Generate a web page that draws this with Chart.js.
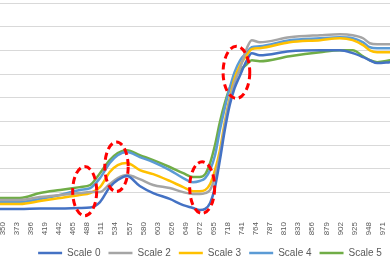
<!DOCTYPE html>
<html>
<head>
<meta charset="utf-8">
<script src="https://cdn.jsdelivr.net/npm/chart.js@4"></script>
<style>
  html, body { margin: 0; padding: 0; background: #fff; overflow: hidden; }
  #wrap { position: relative; width: 390px; height: 268px; }
</style>
</head>
<body>
<div id="wrap"><canvas id="myChart"></canvas></div>
<script>
const wavelengths = [345, 378, 411, 444, 476, 493, 509, 525, 538, 553, 574, 596, 623, 645, 661, 672, 681, 689, 697, 705, 713, 721, 729, 738, 749, 757, 770, 819, 869, 901, 922, 939, 950, 962, 984];

const scale0 = [3.0, 3.0, 3.2, 3.2, 3.4, 3.6, 5.9, 12.2, 15.2, 16.9, 12.7, 9.7, 7.2, 4.6, 3.4, 2.5, 3.0, 5.5, 12.2, 23.6, 36.3, 46.8, 54.0, 59.5, 65.8, 68.8, 67.9, 69.6, 70.0, 70.0, 68.8, 67.1, 65.8, 64.6, 65.0];
const scale2 = [6.8, 6.8, 8.0, 8.9, 9.7, 10.1, 10.1, 13.5, 16.0, 17.3, 15.6, 13.1, 11.8, 10.1, 9.3, 9.3, 9.7, 11.0, 16.5, 25.7, 38.4, 48.9, 56.5, 62.4, 70.9, 74.3, 73.4, 75.5, 76.4, 76.8, 76.4, 75.1, 73.0, 72.6, 72.6];
const scale3 = [5.1, 5.1, 6.3, 7.6, 8.9, 9.7, 12.2, 18.6, 21.5, 22.4, 19.4, 17.7, 14.8, 12.2, 10.5, 10.5, 11.0, 13.5, 19.4, 27.8, 39.7, 49.8, 58.2, 63.7, 67.9, 70.5, 70.9, 73.4, 74.3, 75.1, 74.3, 72.2, 70.0, 69.2, 69.2];
const scale4 = [5.9, 5.9, 7.2, 8.9, 11.0, 11.8, 16.0, 22.4, 25.7, 27.0, 24.9, 22.8, 19.4, 16.0, 14.3, 14.8, 16.0, 19.4, 25.7, 36.3, 45.6, 54.0, 60.8, 65.8, 69.2, 71.3, 71.7, 74.3, 75.1, 75.5, 75.1, 73.4, 71.3, 70.9, 70.9];
const scale5 = [7.6, 7.6, 9.7, 11.0, 12.2, 13.1, 18.1, 23.6, 26.6, 27.8, 25.7, 23.6, 20.7, 18.1, 16.5, 16.5, 17.7, 22.4, 30.0, 39.7, 47.7, 54.0, 58.2, 61.6, 64.1, 65.8, 65.4, 67.5, 69.2, 70.0, 70.0, 67.5, 65.8, 65.0, 65.8];

const tickLabels = [350, 373, 396, 419, 442, 465, 488, 511, 534, 557, 580, 603, 626, 649, 672, 695, 718, 741, 764, 787, 810, 833, 856, 879, 902, 925, 948, 971];

// red dashed rings: centre (nm, value) and radii (nm, value)
const highlights = [
    { x: 484, y: 10.5, rx: 19.6, ry: 10.4 },
    { x: 536, y: 20.8, rx: 19.1, ry: 10.5 },
    { x: 676, y: 12.0, rx: 20.4, ry: 10.9 },
    { x: 732, y: 60.7, rx: 21.8, ry: 11.0 }
];

const toPoints = vals => vals.map((v, i) => ({ x: wavelengths[i], y: v }));

const series = [
    { label: 'Scale 0', data: scale0, color: '#4472C4' },
    { label: 'Scale 2', data: scale2, color: '#A5A5A5' },
    { label: 'Scale 3', data: scale3, color: '#FFC000' },
    { label: 'Scale 4', data: scale4, color: '#5B9BD5' },
    { label: 'Scale 5', data: scale5, color: '#70AD47' }
];

const ringPlugin = {
    id: 'rings',
    afterDatasetsDraw(chart) {
        const { ctx, scales: { x, y } } = chart;
        ctx.save();
        ctx.strokeStyle = '#FF0000';
        ctx.lineWidth = 3;
        ctx.setLineDash([7, 4]);
        highlights.forEach(h => {
            const cx = x.getPixelForValue(h.x);
            const cy = y.getPixelForValue(h.y);
            const rx = Math.abs(x.getPixelForValue(h.x + h.rx) - cx);
            const ry = Math.abs(y.getPixelForValue(h.y + h.ry) - cy);
            ctx.beginPath();
            ctx.ellipse(cx, cy, rx, ry, 0, 0, Math.PI * 2);
            ctx.stroke();
        });
        ctx.restore();
    }
};

// nudge the legend row to the right, like the original
const legendShift = {
    id: 'legendShift',
    afterLayout(chart) {
        chart.legend.left += 15;
        chart.legend.right += 15;
    }
};

const ctx = document.getElementById('myChart').getContext('2d');

const myChart = new Chart(ctx, {
    type: 'line',
    data: {
        datasets: series.map(s => ({
            label: s.label,
            data: toPoints(s.data),
            borderColor: s.color,
            backgroundColor: s.color,
            borderWidth: 2.5,
            pointRadius: 0,
            cubicInterpolationMode: 'monotone'
        }))
    },
    options: {
        responsive: true,
        maintainAspectRatio: false,
        animation: false,
        layout: { padding: { left: 0, right: 0, top: 3, bottom: 0 } },
        scales: {
            x: {
                type: 'linear',
                min: 345.6,
                max: 983,
                afterBuildTicks: scale => {
                    scale.ticks = tickLabels.map(v => ({ value: v }));
                },
                afterFit: scale => {
                    scale.height = 24;
                    scale.paddingLeft = 0;
                    scale.paddingRight = 0;
                },
                ticks: {
                    autoSkip: false,
                    minRotation: 90,
                    maxRotation: 90,
                    padding: 6,
                    color: '#595959',
                    font: { family: 'Liberation Sans', size: 8 },
                    callback: v => String(v)
                },
                grid: { display: false, drawTicks: false },
                border: { display: false }
            },
            y: {
                min: 0,
                max: 90,
                ticks: { display: false, stepSize: 10 },
                grid: {
                    color: c => (c.tick.value === 0 ? 'rgba(0,0,0,0)' : '#d9d9d9'),
                    lineWidth: 1,
                    drawTicks: false
                },
                border: { display: false }
            }
        },
        plugins: {
            legend: {
                position: 'bottom',
                labels: {
                    usePointStyle: true,
                    pointStyle: 'line',
                    pointStyleWidth: 24,
                    padding: 8,
                    color: '#595959',
                    font: { family: 'Liberation Sans', size: 10 }
                }
            },
            tooltip: { enabled: false }
        }
    },
    plugins: [ringPlugin, legendShift]
});
</script>
</body>
</html>
